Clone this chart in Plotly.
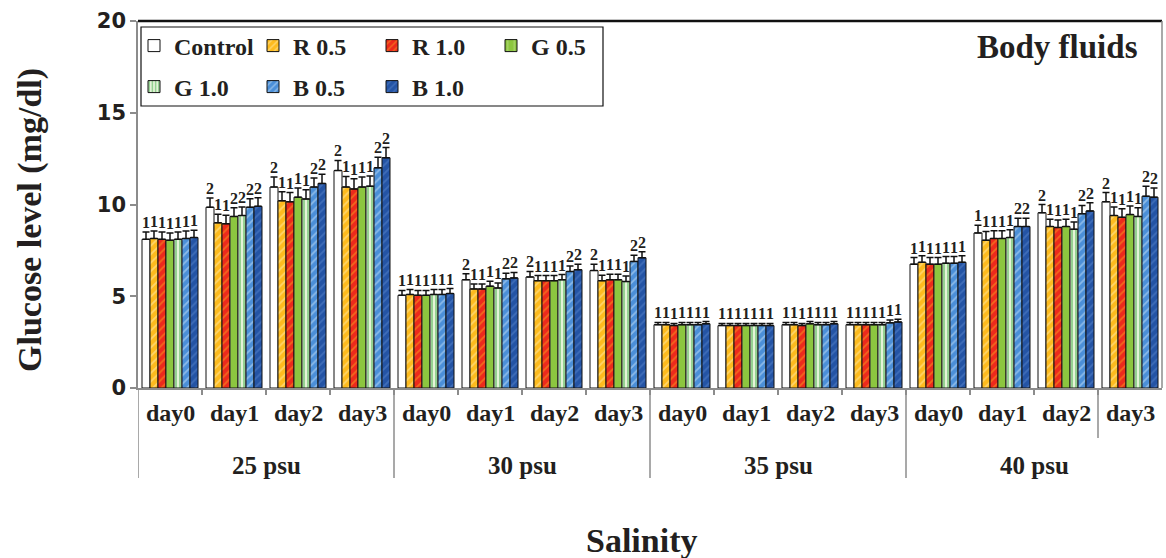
import plotly.graph_objects as go

# ---------------- data ----------------
psu_labels = ["25 psu", "30 psu", "35 psu", "40 psu"]
day_labels = ["day0", "day1", "day2", "day3"]
series_names = ["Control", "R 0.5", "R 1.0", "G 0.5", "G 1.0", "B 0.5", "B 1.0"]

# values ordered: 25psu d0..d3, 30psu d0..d3, 35psu d0..d3, 40psu d0..d3
control = [8.10, 9.85, 10.95, 11.85, 5.05, 5.90, 6.05, 6.40, 3.45, 3.40, 3.45, 3.45, 6.75, 8.45, 9.55, 10.15]
r05     = [8.15, 9.00, 10.20, 10.95, 5.10, 5.40, 5.85, 5.85, 3.45, 3.40, 3.45, 3.45, 6.85, 8.05, 8.80, 9.40]
r10     = [8.10, 8.95, 10.15, 10.85, 5.05, 5.40, 5.85, 5.90, 3.40, 3.40, 3.40, 3.45, 6.75, 8.15, 8.75, 9.30]
g05     = [8.05, 9.35, 10.40, 10.95, 5.05, 5.55, 5.85, 5.90, 3.45, 3.40, 3.50, 3.45, 6.75, 8.15, 8.80, 9.45]
g10     = [8.10, 9.40, 10.30, 11.00, 5.10, 5.45, 5.90, 5.80, 3.45, 3.40, 3.45, 3.45, 6.80, 8.20, 8.65, 9.35]
b05     = [8.15, 9.85, 10.95, 12.00, 5.10, 5.95, 6.35, 6.90, 3.45, 3.40, 3.45, 3.55, 6.80, 8.80, 9.50, 10.45]
b10     = [8.20, 9.90, 11.15, 12.55, 5.15, 6.00, 6.45, 7.10, 3.50, 3.40, 3.50, 3.60, 6.85, 8.80, 9.65, 10.40]

control_err = [0.40, 0.50, 0.55, 0.55, 0.27, 0.32, 0.30, 0.35, 0.12, 0.12, 0.12, 0.12, 0.36, 0.42, 0.45, 0.50]
r05_err     = [0.40, 0.47, 0.50, 0.58, 0.27, 0.27, 0.28, 0.30, 0.12, 0.12, 0.12, 0.12, 0.36, 0.48, 0.40, 0.47]
r10_err     = [0.40, 0.47, 0.50, 0.55, 0.27, 0.27, 0.28, 0.30, 0.12, 0.12, 0.12, 0.12, 0.36, 0.42, 0.40, 0.47]
g05_err     = [0.40, 0.47, 0.50, 0.55, 0.27, 0.27, 0.28, 0.30, 0.12, 0.12, 0.12, 0.12, 0.36, 0.42, 0.40, 0.47]
g10_err     = [0.40, 0.47, 0.50, 0.55, 0.27, 0.27, 0.28, 0.30, 0.12, 0.12, 0.12, 0.12, 0.36, 0.42, 0.40, 0.47]
b05_err     = [0.40, 0.47, 0.50, 0.58, 0.27, 0.30, 0.30, 0.33, 0.12, 0.12, 0.12, 0.15, 0.36, 0.45, 0.45, 0.54]
b10_err     = [0.40, 0.47, 0.50, 0.55, 0.27, 0.30, 0.30, 0.33, 0.12, 0.12, 0.12, 0.15, 0.36, 0.45, 0.45, 0.50]

control_sig = ["1", "2", "2", "2", "1", "2", "2", "2", "1", "1", "1", "1", "1", "1", "2", "2"]
r05_sig     = ["1"] * 16
r10_sig     = ["1"] * 16
g05_sig     = ["1", "2", "1", "1", "1", "1", "1", "1", "1", "1", "1", "1", "1", "1", "1", "1"]
g10_sig     = ["1", "2", "1", "1", "1", "1", "1", "1", "1", "1", "1", "1", "1", "1", "1", "1"]
b05_sig     = ["1", "2", "2", "2", "1", "2", "2", "2", "1", "1", "1", "1", "1", "2", "2", "2"]
b10_sig     = ["1", "2", "2", "2", "1", "2", "2", "2", "1", "1", "1", "1", "1", "2", "2", "2"]

values = [control, r05, r10, g05, g10, b05, b10]
errors = [control_err, r05_err, r10_err, g05_err, g10_err, b05_err, b10_err]
sigs = [control_sig, r05_sig, r10_sig, g05_sig, g10_sig, b05_sig, b10_sig]

# ---------------- styles ----------------
styles = [
    dict(bg="#FFFFFF", fg="#FFFFFF", shape="", size=6, sol=0.3),
    dict(bg="#FDBB1E", fg="#FFF0B8", shape="/", size=6, sol=0.3),
    dict(bg="#EC2A1C", fg="#F8A51E", shape="/", size=6, sol=0.3),
    dict(bg="#8CC63F", fg="#C9E3A0", shape="|", size=8, sol=0.2),
    dict(bg="#E4F3D8", fg="#35A83A", shape="|", size=4, sol=0.45),
    dict(bg="#4B8FD8", fg="#CDE5F8", shape="/", size=6, sol=0.3),
    dict(bg="#2454A5", fg="#5A86CC", shape="/", size=6, sol=0.3),
]

SERIF = "'Liberation Serif', 'Times New Roman', Times, 'DejaVu Serif', serif"
TXT = "#231F20"
GRAY = "#8C8C8C"
BW = 0.125
n_groups = len(psu_labels) * len(day_labels)

fig = go.Figure()
for k, name in enumerate(series_names):
    xs = [i + (k - 3) * BW for i in range(n_groups)]
    st = styles[k]
    fig.add_trace(go.Bar(
        x=xs, y=values[k], width=BW, name=name,
        legend="legend" if k < 4 else "legend2",
        marker=dict(color=st["bg"], line=dict(color="#111111", width=1),
                    pattern=dict(shape=st["shape"], fgcolor=st["fg"], bgcolor=st["bg"],
                                 size=st["size"], solidity=st["sol"])),
        error_y=dict(type="data", symmetric=False, array=errors[k], arrayminus=[0] * n_groups,
                     color="#111111", thickness=1.5, width=3.5),
    ))
for k in range(len(series_names)):
    xs = [i + (k - 3) * BW for i in range(n_groups)]
    ys = [v + e for v, e in zip(values[k], errors[k])]
    fig.add_trace(go.Scatter(
        x=xs, y=ys, mode="text", text=sigs[k], textposition="top center",
        textfont=dict(family=SERIF, size=16, color=TXT, weight="bold"),
        showlegend=False, cliponaxis=False, hoverinfo="skip"))

# ---------------- layout ----------------
L, R, T, B = 138, 4, 21, 170
W, H = 1166, 558
pw, ph = W - L - R, H - T - B

def px_x(x):
    return (x - L) / pw

def px_y(y):
    return (H - B - y) / ph

annotations = []
for i in range(n_groups):
    annotations.append(dict(x=i, y=px_y(413), xref="x", yref="paper", text=day_labels[i % 4],
                            showarrow=False, yanchor="middle",
                            font=dict(family=SERIF, size=24, color=TXT, weight="bold")))
for p, lab in enumerate(psu_labels):
    annotations.append(dict(x=p * 4 + 1.5, y=px_y(465), xref="x", yref="paper", text=lab,
                            showarrow=False, yanchor="middle",
                            font=dict(family=SERIF, size=25, color=TXT, weight="bold")))
annotations.append(dict(x=px_x(641), y=px_y(540), xref="paper", yref="paper", text="Salinity",
                        showarrow=False, yanchor="middle",
                        font=dict(family=SERIF, size=34, color=TXT, weight="bold")))
annotations.append(dict(x=px_x(30), y=px_y(220), xref="paper", yref="paper",
                        text="Glucose level (mg/dl)", textangle=-90, showarrow=False,
                        xanchor="center", yanchor="middle",
                        font=dict(family=SERIF, size=34, color=TXT, weight="bold")))
annotations.append(dict(x=px_x(1057), y=px_y(47), xref="paper", yref="paper", text="Body fluids",
                        showarrow=False, xanchor="center", yanchor="middle",
                        font=dict(family=SERIF, size=33, color=TXT, weight="bold")))

shapes = []
for xb in [-0.5, 3.5, 7.5, 11.5]:
    shapes.append(dict(type="line", xref="x", yref="paper", x0=xb, x1=xb, y0=px_y(478), y1=0,
                       line=dict(color=GRAY, width=1.5)))
shapes.append(dict(type="line", xref="x", yref="paper", x0=14.5, x1=14.5, y0=px_y(438), y1=0,
                   line=dict(color=GRAY, width=1.5)))
shapes.append(dict(type="line", xref="paper", yref="paper", x0=0, x1=1, y0=1, y1=1,
                   line=dict(color="#111111", width=2.5)))
shapes.append(dict(type="line", xref="paper", yref="paper", x0=1, x1=1, y0=0, y1=1,
                   line=dict(color=GRAY, width=1.5)))
shapes.append(dict(type="rect", xref="paper", yref="paper", x0=px_x(141), x1=px_x(603),
                   y0=px_y(106), y1=px_y(27), line=dict(color="#111111", width=1.2),
                   fillcolor="rgba(0,0,0,0)"))

legfont = dict(family=SERIF, size=24, color=TXT, weight="bold")
fig.update_layout(
    width=W, height=H,
    margin=dict(l=L, r=R, t=T, b=B, pad=0),
    paper_bgcolor="white", plot_bgcolor="white",
    barmode="overlay",
    showlegend=True,
    legend=dict(orientation="h", x=px_x(134), y=px_y(46), xanchor="left", yanchor="middle",
                entrywidth=74, entrywidthmode="pixels", font=legfont,
                bgcolor="rgba(0,0,0,0)", borderwidth=0, traceorder="normal"),
    legend2=dict(orientation="h", x=px_x(134), y=px_y(87), xanchor="left", yanchor="middle",
                 entrywidth=74, entrywidthmode="pixels", font=legfont,
                 bgcolor="rgba(0,0,0,0)", borderwidth=0, traceorder="normal"),
    xaxis=dict(range=[-0.5, n_groups - 0.5], tickvals=[i + 0.5 for i in range(n_groups - 1)],
               showticklabels=False, ticks="outside", ticklen=5, tickcolor=GRAY, tickwidth=1.5,
               showline=True, linecolor=GRAY, linewidth=1.5, showgrid=False, zeroline=False,
               fixedrange=True),
    yaxis=dict(range=[0, 20], tickvals=[0, 5, 10, 15, 20], ticks="outside", ticklen=6,
               tickcolor=GRAY, tickwidth=1.5, showline=True, linecolor=GRAY, linewidth=1.5,
               showgrid=False, zeroline=False,
               tickfont=dict(family="DejaVu Sans", size=21, color=TXT, weight="bold")),
    annotations=annotations,
    shapes=shapes,
)

fig.write_html("out.html")
